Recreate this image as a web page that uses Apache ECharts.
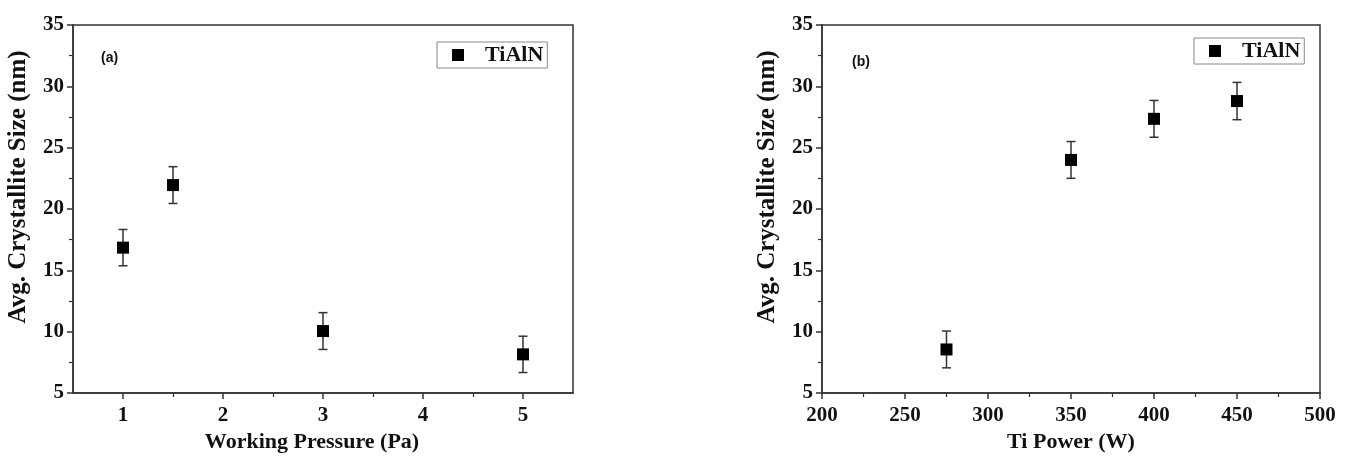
<!DOCTYPE html>
<html>
<head>
<meta charset="utf-8">
<script src="https://cdn.jsdelivr.net/npm/echarts@6/dist/echarts.min.js"></script>
<style>html,body{margin:0;padding:0;background:#fff;}#c{width:1351px;height:472px;}</style>
</head>
<body>
<div id="c"></div>
<script>
// ---- Data ----
const pressureX = [1, 1.5, 3, 5];
const pressureSize = [16.85, 21.95, 10.05, 8.15];
const pressureErr = [1.48, 1.5, 1.5, 1.48];

const powerX = [275, 350, 400, 450];
const powerSize = [8.55, 24.0, 27.35, 28.8];
const powerErr = [1.5, 1.5, 1.5, 1.52];

const pressureTicks = [1, 2, 3, 4, 5];
const pressureMinorTicks = [1.5, 2.5, 3.5, 4.5];

const seriesName = 'TiAlN';

// ---- Styles ----
const SERIF = '"Liberation Serif", "DejaVu Serif", serif';
const AXC = '#333';

function pts(xs, ys) { return xs.map((x, i) => [x, ys[i]]); }
function errPts(xs, ys, es) { return xs.map((x, i) => [x, ys[i], es[i]]); }

function errorRender(params, api) {
  const x = api.value(0), y = api.value(1), e = api.value(2);
  const top = api.coord([x, y + e]);
  const bot = api.coord([x, y - e]);
  const cap = 4.5;
  const st = { stroke: '#333', lineWidth: 1.5 };
  return {
    type: 'group',
    children: [
      { type: 'line', shape: { x1: top[0], y1: top[1], x2: bot[0], y2: bot[1] }, style: st },
      { type: 'line', shape: { x1: top[0] - cap, y1: top[1], x2: top[0] + cap, y2: top[1] }, style: st },
      { type: 'line', shape: { x1: bot[0] - cap, y1: bot[1], x2: bot[0] + cap, y2: bot[1] }, style: st }
    ]
  };
}

const tickLabel = { fontFamily: SERIF, fontWeight: 'bold', fontSize: 21, color: '#111' };
const axisLine = { show: true, lineStyle: { color: AXC, width: 1.5 } };

function yAxisCfg(gi) {
  return {
    type: 'value', gridIndex: gi, min: 5, max: 35, interval: 5,
    name: 'Avg. Crystallite Size (nm)', nameLocation: 'middle', nameGap: 42,
    nameTextStyle: { fontFamily: SERIF, fontWeight: 'bold', fontSize: 25, color: '#111', padding: [0, 0, 0, 44] },
    axisLine: axisLine,
    axisTick: { show: true, inside: false, length: 6, lineStyle: { color: AXC, width: 1.5 } },
    minorTick: { show: true, splitNumber: 2, length: 4, lineStyle: { color: AXC, width: 1.2 } },
    axisLabel: Object.assign({ margin: 9 }, tickLabel),
    splitLine: { show: false }
  };
}

const legendCfg = (left, top) => ({
  left: left, top: top,
  data: [seriesName],
  orient: 'horizontal',
  icon: 'rect', itemWidth: 12, itemHeight: 12,
  padding: [2, 4, 2, 15],
  borderColor: '#888', borderWidth: 1,
  itemStyle: { color: '#000', opacity: 1 },
  textStyle: { fontFamily: SERIF, fontWeight: 'bold', fontSize: 22, color: '#111', padding: [0, 0, 0, 16] },
  selectedMode: false
});

const option = {
  backgroundColor: '#fff',
  animation: false,
  title: [
    { text: '(a)', left: 96, top: 46, textStyle: { fontFamily: 'Liberation Sans, Arial, sans-serif', fontWeight: 'bold', fontSize: 14, color: '#111' } },
    { text: '(b)', left: 847, top: 50, textStyle: { fontFamily: 'Liberation Sans, Arial, sans-serif', fontWeight: 'bold', fontSize: 14, color: '#111' } }
  ],
  legend: [legendCfg(437, 42), legendCfg(1194, 38)],
  grid: [
    { left: 73, top: 25, width: 500, height: 368, show: true, borderColor: AXC, borderWidth: 1.5, backgroundColor: 'transparent' },
    { left: 822, top: 25, width: 498, height: 368, show: true, borderColor: AXC, borderWidth: 1.5, backgroundColor: 'transparent' }
  ],
  xAxis: [
    {
      type: 'value', gridIndex: 0, min: 0.5, max: 5.5, position: 'bottom',
      name: 'Working Pressure (Pa)', nameLocation: 'middle', nameGap: 36,
      nameTextStyle: { fontFamily: SERIF, fontWeight: 'bold', fontSize: 22, color: '#111', padding: [0, 22, 0, 0] },
      axisLine: axisLine,
      axisTick: { show: true, inside: false, length: 6, customValues: pressureTicks, lineStyle: { color: AXC, width: 1.5 } },
      axisLabel: Object.assign({ margin: 12, customValues: pressureTicks }, tickLabel),
      splitLine: { show: false }
    },
    {
      type: 'value', gridIndex: 0, min: 0.5, max: 5.5, position: 'bottom',
      axisLine: { show: false },
      axisTick: { show: true, inside: false, length: 4, customValues: pressureMinorTicks, lineStyle: { color: AXC, width: 1.2 } },
      axisLabel: { show: false },
      splitLine: { show: false }
    },
    {
      type: 'value', gridIndex: 1, min: 200, max: 500, interval: 50,
      name: 'Ti Power (W)', nameLocation: 'middle', nameGap: 36,
      nameTextStyle: { fontFamily: SERIF, fontWeight: 'bold', fontSize: 22, color: '#111' },
      axisLine: axisLine,
      axisTick: { show: true, inside: false, length: 6, lineStyle: { color: AXC, width: 1.5 } },
      minorTick: { show: true, splitNumber: 2, length: 4, lineStyle: { color: AXC, width: 1.2 } },
      axisLabel: Object.assign({ margin: 12 }, tickLabel),
      splitLine: { show: false }
    }
  ],
  yAxis: [yAxisCfg(0), yAxisCfg(1)],
  series: [
    {
      type: 'custom', xAxisIndex: 0, yAxisIndex: 0, renderItem: errorRender,
      data: errPts(pressureX, pressureSize, pressureErr), z: 2, silent: true
    },
    {
      name: seriesName, type: 'scatter', xAxisIndex: 0, yAxisIndex: 0,
      symbol: 'rect', symbolSize: 12, itemStyle: { color: '#000', opacity: 1 },
      data: pts(pressureX, pressureSize), z: 3
    },
    {
      type: 'custom', xAxisIndex: 2, yAxisIndex: 1, renderItem: errorRender,
      data: errPts(powerX, powerSize, powerErr), z: 2, silent: true
    },
    {
      name: seriesName, type: 'scatter', xAxisIndex: 2, yAxisIndex: 1,
      symbol: 'rect', symbolSize: 12, itemStyle: { color: '#000', opacity: 1 },
      data: pts(powerX, powerSize), z: 3
    }
  ]
};

const chart = echarts.init(document.getElementById('c'), null, { renderer: 'canvas' });
chart.setOption(option);
</script>
</body>
</html>
